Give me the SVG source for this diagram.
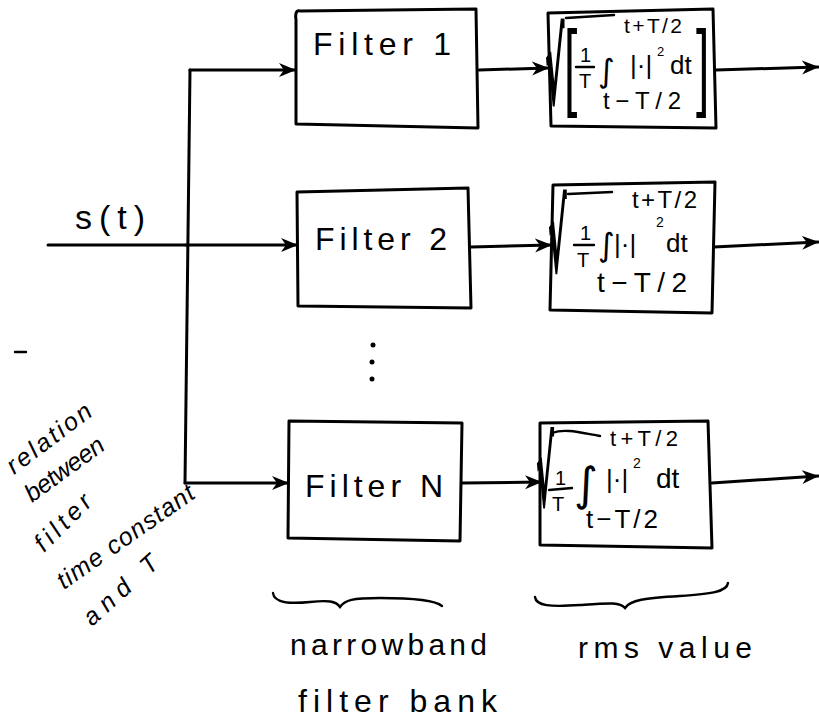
<svg xmlns="http://www.w3.org/2000/svg" width="819" height="719" viewBox="0 0 819 719">
<style>
.ln{fill:none;stroke:#000;stroke-width:3;stroke-linecap:round;stroke-linejoin:round}
.thin{fill:none;stroke:#000;stroke-width:2.4;stroke-linecap:round}
.t{font-family:"Liberation Sans","DejaVu Sans",sans-serif;fill:#000}
.m{font-family:"DejaVu Sans","Liberation Sans",sans-serif;fill:#000}
.rad{font-family:"DejaVu Sans","Liberation Sans",sans-serif;fill:#000;stroke:#000;stroke-width:5}
.lbl{font-family:"Liberation Sans","DejaVu Sans",sans-serif;font-size:32px;fill:#000}
.note{font-family:"Liberation Sans","DejaVu Sans",sans-serif;font-size:25px;font-style:italic;fill:#000}
</style>
<defs>
<marker id="ah" markerWidth="18" markerHeight="16" refX="16" refY="8" orient="auto" markerUnits="userSpaceOnUse">
<path d="M0,1 L17,8 L0,15 L5,8 Z" fill="#000"/>
</marker>
</defs>
<rect width="819" height="719" fill="#fff"/>

<g id="connectors">
<path class="ln" d="M48,245 L186,245"/>
<path class="ln" d="M190,70 L185,483"/>
<path class="ln" d="M190,70 L295,70" marker-end="url(#ah)"/>
<path class="ln" d="M186,245 L297,245" marker-end="url(#ah)"/>
<path class="ln" d="M185,483 L288,483" marker-end="url(#ah)"/>
<path class="ln" d="M479,70 L548,68" marker-end="url(#ah)"/>
<path class="ln" d="M471,247 L551,245" marker-end="url(#ah)"/>
<path class="ln" d="M462,483 L541,482" marker-end="url(#ah)"/>
<path class="ln" d="M716,70 L818,67" marker-end="url(#ah)"/>
<path class="ln" d="M714,247 L818,242" marker-end="url(#ah)"/>
<path class="ln" d="M712,483 L818,476" marker-end="url(#ah)"/>
</g>

<g id="n-filter1">
<path class="ln" d="M300,11 C296,10 295,14 296,20 L296,124 L478,128 L476,9 Z"/>
<text class="lbl" x="313" y="55" textLength="138" lengthAdjust="spacing">Filter 1</text>
</g>
<g id="n-filter2">
<path class="ln" d="M297,192 L468,188 L471,308 L298,306 Z"/>
<text class="lbl" x="315" y="250" textLength="132" lengthAdjust="spacing">Filter 2</text>
</g>
<g id="n-filterN">
<path class="ln" d="M289,421 L462,423 L460,541 L288,538 Z"/>
<text class="lbl" x="305" y="497" textLength="138" lengthAdjust="spacing">Filter N</text>
</g>

<g id="dots">
<circle cx="373" cy="345" r="2.5" fill="#000"/>
<circle cx="372" cy="362" r="2.5" fill="#000"/>
<circle cx="372" cy="379" r="2.5" fill="#000"/>
</g>

<g id="n-rms1">
<path class="ln" d="M548,13 L713,9 L716,128 L551,126 Z"/>
<text class="rad" font-size="100" transform="translate(546,102) scale(0.28,1)">√</text>
<line class="thin" x1="566" y1="18" x2="614" y2="15"/>
<text class="t" font-size="96" transform="translate(564,98) scale(0.5,1)">[</text>
<text class="t" font-size="20" x="580" y="62">1</text>
<line class="thin" x1="576" y1="67" x2="594" y2="67"/>
<text class="t" font-size="20" x="579" y="88">T</text>
<text class="m" font-size="32" x="598" y="82">∫</text>
<text class="t" font-size="21" x="624" y="33" textLength="58" lengthAdjust="spacing">t+T/2</text>
<text class="t" font-size="26" x="630" y="74">|·|</text>
<text class="t" font-size="13" x="657" y="56">2</text>
<text class="t" font-size="26" x="670" y="74">dt</text>
<text class="t" font-size="24" x="603" y="109" textLength="78" lengthAdjust="spacing">t−T/2</text>
<text class="t" font-size="96" transform="translate(696,98) scale(0.5,1)">]</text>
</g>

<g id="n-rms2">
<path class="ln" d="M553,185 L715,182 L712,313 L550,310 Z"/>
<text class="rad" font-size="96" transform="translate(549,270) scale(0.28,1)">√</text>
<line class="thin" x1="568" y1="194" x2="612" y2="192"/>
<text class="t" font-size="20" x="580" y="240">1</text>
<line class="thin" x1="574" y1="245" x2="594" y2="245"/>
<text class="t" font-size="20" x="577" y="267">T</text>
<text class="m" font-size="32" x="598" y="256">∫</text>
<text class="t" font-size="26" x="614" y="253">|·|</text>
<text class="t" font-size="14" x="656" y="227">2</text>
<text class="t" font-size="26" x="666" y="252">dt</text>
<text class="t" font-size="24" x="632" y="208" textLength="65" lengthAdjust="spacing">t+T/2</text>
<text class="t" font-size="28" x="597" y="292" textLength="90" lengthAdjust="spacing">t−T/2</text>
</g>

<g id="n-rms3">
<path class="ln" d="M540,423 L708,421 L712,548 L540,545 Z"/>
<text class="rad" font-size="92" transform="translate(537,504) scale(0.28,1)">√</text>
<path class="thin" d="M552,433 C565,428 582,433 600,436"/>
<text class="t" font-size="20" x="555" y="485">1</text>
<line class="thin" x1="549" y1="490" x2="572" y2="488"/>
<text class="t" font-size="20" x="552" y="511">T</text>
<text class="m" font-size="46" x="574" y="500">∫</text>
<text class="t" font-size="22" x="610" y="446" textLength="68" lengthAdjust="spacing">t+T/2</text>
<text class="t" font-size="26" x="606" y="488">|·|</text>
<text class="t" font-size="14" x="633" y="468">2</text>
<text class="t" font-size="28" x="656" y="488">dt</text>
<text class="t" font-size="26" x="586" y="528" textLength="72" lengthAdjust="spacing">t−T/2</text>
</g>

<g id="labels">
<text class="t" font-size="34" x="75" y="229" textLength="70" lengthAdjust="spacing">s(t)</text>
<line class="thin" x1="15" y1="352" x2="26" y2="352" stroke-width="1.2"/>
<path class="thin" d="M273,593 C274,603 290,604 310,602 C328,600 336,601 340,607 C345,600 352,598 380,598 C410,598 435,600 442,606"/>
<path class="thin" d="M535,597 C536,606 550,607 580,605 C610,603 620,602 625,608 C630,600 645,598 680,596 C710,594 727,592 728,583"/>
<text class="t" font-size="30" x="290" y="655" textLength="197" lengthAdjust="spacing">narrowband</text>
<text class="t" font-size="32" x="298" y="712" textLength="199" lengthAdjust="spacing">filter bank</text>
<text class="t" font-size="30" x="578" y="658" textLength="174" lengthAdjust="spacing">rms value</text>
<text class="note" transform="translate(14,475) rotate(-37)" textLength="100" lengthAdjust="spacing">relation</text>
<text class="note" transform="translate(32,503) rotate(-36)" textLength="92" lengthAdjust="spacing">between</text>
<text class="note" font-size="28" transform="translate(44,553) rotate(-45)" textLength="70" lengthAdjust="spacing">filter</text>
<text class="note" transform="translate(64,590) rotate(-35)" textLength="162" lengthAdjust="spacing">time constant</text>
<text class="note" font-size="28" transform="translate(92,627) rotate(-42)" textLength="92" lengthAdjust="spacing">and T</text>
</g>
</svg>
